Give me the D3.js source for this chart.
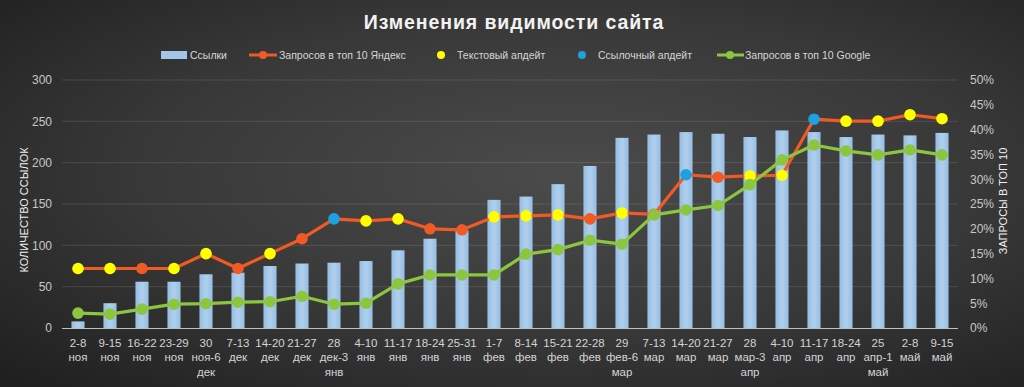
<!DOCTYPE html>
<html><head><meta charset="utf-8">
<script src="https://cdn.jsdelivr.net/npm/d3@7"></script>
<style>
html,body{margin:0;padding:0;background:#2b2b2b;}
svg{display:block;}
text{font-family:"Liberation Sans","DejaVu Sans",sans-serif;}
</style></head>
<body><svg id="c" width="1024" height="387"></svg>
<script>
const categories = ["2-8|ноя","9-15|ноя","16-22|ноя","23-29|ноя","30|ноя-6|дек","7-13|дек","14-20|дек","21-27|дек","28|дек-3|янв","4-10|янв","11-17|янв","18-24|янв","25-31|янв","1-7|фев","8-14|фев","15-21|фев","22-28|фев","29|фев-6|мар","7-13|мар","14-20|мар","21-27|мар","28|мар-3|апр","4-10|апр","11-17|апр","18-24|апр","25|апр-1|май","2-8|май","9-15|май"];
const links = [8,30,56,56,65,67,75,78,79,81,94,108,118,155,159,174,196,230,234,237,235,231,239,237,231,234,233,236];
const yandex = [12,12,12,12,15,12,15,18,22,21.6,22,20,19.8,22.4,22.6,22.8,22,23.2,22.9,30.9,30.4,30.7,30.8,42.1,41.7,41.7,43,42.2];
const google = [3,2.8,3.8,4.8,4.9,5.2,5.3,6.4,4.8,5,8.9,10.7,10.7,10.7,14.9,15.8,17.7,16.9,22.8,23.8,24.7,28.9,33.9,36.9,35.7,34.9,35.9,34.9];
// update type marker on Yandex line: "t" = text update, "l" = link update, "" = none
const updates = ["t","t","","t","t","","t","","l","t","t","","","t","t","t","","t","","l","","t","t","l","t","t","t","t"];
const leftTicks = [0,50,100,150,200,250,300];
const rightTicks = [0,5,10,15,20,25,30,35,40,45,50];
const title = "Изменения видимости сайта";
const legendItems = ["Ссылки","Запросов в топ 10 Яндекс","Текстовый апдейт","Ссылочный апдейт","Запросов в топ 10 Google"];

const C = {bar:"#a3c6e8", yan:"#f05a24", google:"#8cc63f", text:"#ffff00", link:"#1fa0e0", txt:"#d6d6d6"};
const svg = d3.select("#c");
const W=1024,H=387;
const L=62,R=958,T=80,B=328;

const defs = svg.append("defs");
const rg = defs.append("radialGradient").attr("id","bg").attr("cx","0.55").attr("cy","0.45").attr("r","0.75").attr("gradientUnits","objectBoundingBox");
rg.append("stop").attr("offset","0").attr("stop-color","#4b4b4b");
rg.append("stop").attr("offset","0.55").attr("stop-color","#383838");
rg.append("stop").attr("offset","1").attr("stop-color","#202020");
const bg2 = defs.append("linearGradient").attr("id","barg").attr("x1","0").attr("x2","1");
bg2.append("stop").attr("offset","0").attr("stop-color","#98bde2");
bg2.append("stop").attr("offset","0.5").attr("stop-color","#aed0f0");
bg2.append("stop").attr("offset","1").attr("stop-color","#98bde2");
svg.append("rect").attr("width",W).attr("height",H).attr("fill","url(#bg)");

const x = d3.scaleBand().domain(d3.range(categories.length)).range([L,R]).paddingInner(0.59).paddingOuter(0.295);
const cx = i => x(i)+x.bandwidth()/2;
const yL = d3.scaleLinear().domain([0,300]).range([B,T]);
const yR = d3.scaleLinear().domain([0,50]).range([B,T]);

// grid
svg.append("g").selectAll("line").data(leftTicks.slice(1)).join("line")
  .attr("x1",L).attr("x2",R).attr("y1",d=>yL(d)).attr("y2",d=>yL(d))
  .attr("stroke","#ffffff").attr("stroke-opacity",0.12).attr("stroke-width",1);

// left axis
const gl = svg.append("g").attr("transform",`translate(${L},0)`)
  .call(d3.axisLeft(yL).tickValues(leftTicks).tickSize(0).tickPadding(10));
gl.select(".domain").remove();
gl.selectAll("text").attr("fill","#c8c8c8").attr("font-size","12px");
// right axis
const gr = svg.append("g").attr("transform",`translate(${R},0)`)
  .call(d3.axisRight(yR).tickValues(rightTicks).tickFormat(d=>d+"%").tickSize(0).tickPadding(12));
gr.select(".domain").remove();
gr.selectAll("text").attr("fill","#c8c8c8").attr("font-size","12px");

// bars
svg.append("g").selectAll("rect").data(links).join("rect")
  .attr("x",(d,i)=>x(i)).attr("width",x.bandwidth())
  .attr("y",d=>yL(d)).attr("height",d=>B-yL(d)).attr("fill","url(#barg)");

// baseline
svg.append("line").attr("x1",L).attr("x2",R).attr("y1",B+0.5).attr("y2",B+0.5).attr("stroke","#bfbfbf").attr("stroke-width",1);

// x labels
const xl = svg.append("g");
categories.forEach((c,i)=>{
  const t = xl.append("text").attr("x",cx(i)).attr("y",347).attr("text-anchor","middle")
    .attr("fill","#d4d4d4").attr("font-size","11.5px");
  c.split("|").forEach((s,k)=>t.append("tspan").attr("x",cx(i)).attr("dy",k?14.3:0).text(s));
});

// lines
const line = d3.line().x((d,i)=>cx(i)).y(d=>yR(d));
svg.append("path").datum(yandex).attr("d",line).attr("fill","none").attr("stroke",C.yan).attr("stroke-width",3.2).attr("stroke-linejoin","round");
svg.append("g").selectAll("circle").data(yandex).join("circle")
  .attr("cx",(d,i)=>cx(i)).attr("cy",d=>yR(d)).attr("r",5.8)
  .attr("fill",(d,i)=>updates[i]==="t"?C.text:updates[i]==="l"?C.link:C.yan);
svg.append("path").datum(google).attr("d",line).attr("fill","none").attr("stroke",C.google).attr("stroke-width",3.2).attr("stroke-linejoin","round");
svg.append("g").selectAll("circle").data(google).join("circle")
  .attr("cx",(d,i)=>cx(i)).attr("cy",d=>yR(d)).attr("r",5.8).attr("fill",C.google);

// axis titles
svg.append("text").attr("transform",`translate(28,${(T+B)/2+6}) rotate(-90)`).attr("text-anchor","middle")
  .attr("fill","#f0f0f0").attr("font-size","11px").text("КОЛИЧЕСТВО ССЫЛОК");
svg.append("text").attr("transform",`translate(1007,${(T+B)/2-3}) rotate(-90)`).attr("text-anchor","middle")
  .attr("fill","#f0f0f0").attr("font-size","11px").text("ЗАПРОСЫ В ТОП 10");

// title
svg.append("text").attr("x",514).attr("y",29).attr("text-anchor","middle").attr("fill","#f2f2f2")
  .attr("font-size","19.5px").attr("font-weight","bold").attr("font-family","'Open Sans',sans-serif").attr("letter-spacing","0.9px").text(title);

// legend
const lg = svg.append("g").attr("font-size","10.5px").attr("fill",C.txt);
const ly = 55;
lg.append("rect").attr("x",161).attr("y",ly-4).attr("width",26).attr("height",8).attr("fill",C.bar);
lg.append("text").attr("x",190).attr("y",ly+4).attr("fill",C.txt).text(legendItems[0]);
lg.append("line").attr("x1",249).attr("x2",277).attr("y1",ly).attr("y2",ly).attr("stroke",C.yan).attr("stroke-width",3);
lg.append("circle").attr("cx",263).attr("cy",ly).attr("r",4).attr("fill",C.yan);
lg.append("text").attr("x",279).attr("y",ly+4).attr("fill",C.txt).text(legendItems[1]);
lg.append("circle").attr("cx",441).attr("cy",ly).attr("r",4).attr("fill",C.text);
lg.append("text").attr("x",457).attr("y",ly+4).attr("fill",C.txt).text(legendItems[2]);
lg.append("circle").attr("cx",582).attr("cy",ly).attr("r",4).attr("fill",C.link);
lg.append("text").attr("x",598).attr("y",ly+4).attr("fill",C.txt).text(legendItems[3]);
lg.append("line").attr("x1",717).attr("x2",744).attr("y1",ly).attr("y2",ly).attr("stroke",C.google).attr("stroke-width",3);
lg.append("circle").attr("cx",730).attr("cy",ly).attr("r",4).attr("fill",C.google);
lg.append("text").attr("x",745).attr("y",ly+4).attr("fill",C.txt).text(legendItems[4]);
</script></body></html>
